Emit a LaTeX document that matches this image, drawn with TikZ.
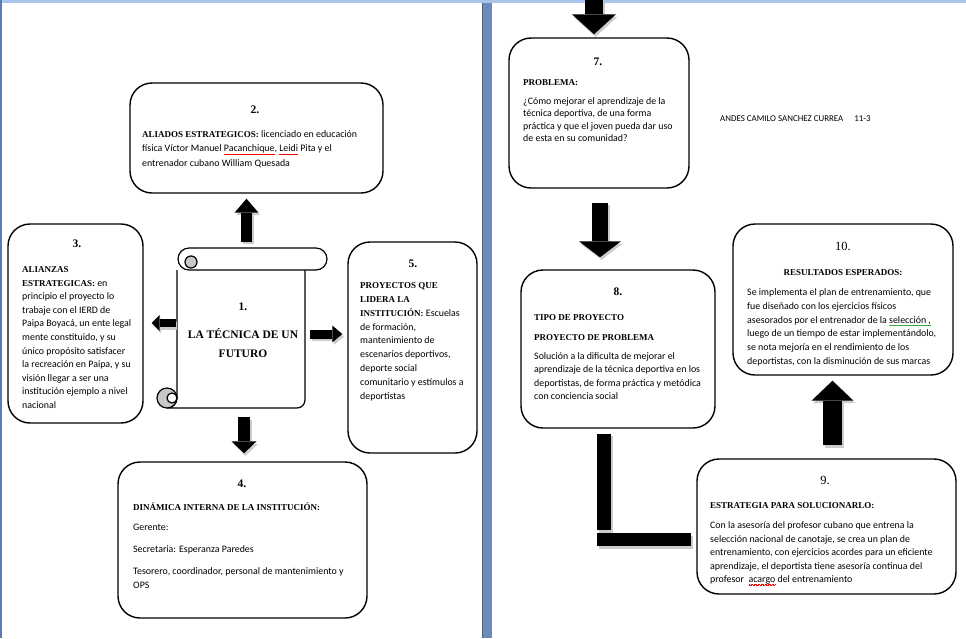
\documentclass[tikz,border=0pt]{standalone}
\usepackage{fontspec}
\setmainfont{Carlito}
\newfontfamily\headfont{Liberation Serif}
\usetikzlibrary{arrows.meta,calc}
\definecolor{topband}{RGB}{170,197,236}
\definecolor{pageedge}{RGB}{90,124,178}
\definecolor{gutter}{RGB}{108,138,186}
\definecolor{curlgray}{RGB}{200,200,200}
\definecolor{spellgreen}{RGB}{60,170,60}
\newcommand{\headtxt}[1]{{\headfont\bfseries\fontsize{9}{13}\selectfont #1}}
\newsavebox{\spellbox}
\newcommand{\spellmark}[2]{\sbox{\spellbox}{#2}\rlap{\color{#1}\xleaders\hbox{\rule[-2.8pt]{0.7pt}{0.6pt}\rule[-2.2pt]{0.7pt}{0.6pt}}\hskip\wd\spellbox}#2}
\tikzset{every node/.append style={font=\fontsize{9.9}{13.6}\selectfont}}
\tikzset{
  box/.style={draw, line width=1.4pt, rounded corners=22pt, fill=white, inner sep=0pt},
  numtxt/.style={anchor=base, inner sep=0pt, font=\headfont\bfseries\fontsize{11.5}{14}\selectfont},
  bodytxt/.style={anchor=base west, align=left, inner sep=0pt},
  fatarrow/.style n args={3}{line width=#1pt, -{Triangle[length=#2pt, width=#3pt, line width=0pt]}},
  fatbar/.style={line width=#1pt},
  scrl/.style={line width=1.2pt}
}

\begin{document}
\begin{tikzpicture}[x=1pt, y=-1pt]
    \useasboundingbox (0,0) rectangle (966,638);
    \fill[white] (0,0) rectangle (966,638);
    \fill[topband] (0,0) rectangle (966,2.5);
    \fill[pageedge] (0,0) rectangle (1.8,638);
    \fill[gutter] (482,2.5) rectangle (492,638);
    \draw[gutter!70!black, line width=0.8pt] (482.5,2.5) -- (482.5,638);

    % left page
    \node[inner sep=0pt, minimum width=127, minimum height=162] (b1) at (243.5,329) {};
    \filldraw[scrl, fill=white] (177,270) -- (177,398) arc (0:90:10) -- (297,408) arc (90:0:8) -- (305,270);
    \filldraw[scrl, fill=white] (189,248) -- (316,248) arc (-90:90:11) -- (189,270) arc (90:270:11) -- cycle;
    \filldraw[scrl, fill=curlgray] (191,262) circle (6);
    \filldraw[scrl, fill=curlgray] (167,398) circle (10);
    \filldraw[scrl, fill=white] (172,398) circle (5);
    \node[numtxt] (n1) at (243,310) {1.};
    \node[anchor=base, align=center, inner sep=0pt, font=\headfont\bfseries\fontsize{11.5}{19}\selectfont] (title) at (243,357) {LA TÉCNICA DE UN\\FUTURO};

    \node[box, minimum width=253, minimum height=110] (b2) at (256.5,138) {};
    \node[numtxt] (n2) at (255,113) {2.};
    \node[bodytxt, font=\fontsize{9.9}{14.6}\selectfont] (t2) at (142,166.5) {\headtxt{ALIADOS ESTRATEGICOS:} licenciado en educación\\física Víctor Manuel \spellmark{red}{Pacanchique}, \spellmark{red}{Leidi} Pita y el\\entrenador cubano William Quesada};

    \node[box, minimum width=135, minimum height=199] (b3) at (75.5,323.5) {};
    \node[numtxt] (n3) at (77,247) {3.};
    \node[bodytxt] (t3) at (22,408.5) {\headtxt{ALIANZAS}\\\headtxt{ESTRATEGICAS:} en\\principio el proyecto lo\\trabaje con el IERD de\\Paipa Boyacá, un ente legal\\mente constituido, y su\\único propósito satisfacer\\la recreación en Paipa, y su\\visión llegar a ser una\\institución ejemplo a nivel\\nacional};

    \node[box, minimum width=129, minimum height=211] (b5) at (412.5,347.5) {};
    \node[numtxt] (n5) at (413,267) {5.};
    \node[bodytxt, font=\fontsize{9.9}{13.9}\selectfont] (t5) at (360,399.5) {\headtxt{PROYECTOS QUE}\\\headtxt{LIDERA LA}\\\headtxt{INSTITUCIÓN:} Escuelas\\de formación,\\mantenimiento de\\escenarios deportivos,\\deporte social\\comunitario y estímulos a\\deportistas};

    \node[box, minimum width=249, minimum height=156] (b4) at (242.5,540) {};
    \node[numtxt] (n4) at (242,487) {4.};
    \node[bodytxt] (t4) at (133,588.5) {\headtxt{DINÁMICA INTERNA DE LA INSTITUCIÓN:}\\[6.4pt]Gerente:\\[8.4pt]Secretaria: Esperanza Paredes\\[8.4pt]Tesorero, coordinador, personal de mantenimiento y\\OPS};

    % right page
    \node[box, minimum width=180, minimum height=150] (b7) at (599,113) {};
    \node[numtxt] (n7) at (598,65) {7.};
    \node[bodytxt, font=\fontsize{9.9}{12.4}\selectfont] (t7) at (523,141.5) {\headtxt{PROBLEMA:}\\[6.6pt]¿Cómo mejorar el aprendizaje de la\\técnica deportiva, de una forma\\práctica y que el joven pueda dar uso\\de esta en su comunidad?};
    \node[anchor=base west, inner sep=0pt, font=\fontsize{8.9}{10}\selectfont] (author) at (720,121.5) {ANDES CAMILO SANCHEZ CURREA\hspace{11pt}11-3};

    \node[box, minimum width=194, minimum height=158] (b8) at (618,349) {};
    \node[numtxt] (n8) at (618,295) {8.};
    \node[bodytxt, font=\fontsize{9.9}{13.3}\selectfont] (t8) at (534,399.5) {\headtxt{TIPO DE PROYECTO}\\[6.7pt]\headtxt{PROYECTO DE PROBLEMA}\\[5.7pt]Solución a la dificulta de mejorar el\\aprendizaje de la técnica deportiva en los\\deportistas, de forma práctica y metódica\\con conciencia social};

    \node[box, minimum width=220, minimum height=151] (b10) at (843,299.5) {};
    \node[numtxt, font=\headfont\fontsize{12.5}{14}\selectfont] (n10) at (843,250) {10.};
    \node[anchor=base, inner sep=0pt] (h10) at (843,275.5) {\headtxt{RESULTADOS ESPERADOS:}};
    \node[bodytxt, font=\fontsize{9.9}{13.8}\selectfont] (t10) at (747,364.5) {Se implementa el plan de entrenamiento, que\\fue diseñado con los ejercicios físicos\\asesorados por el entrenador de la \spellmark{spellgreen}{selección ,}\\luego de un tiempo de estar implementándolo,\\se nota mejoría en el rendimiento de los\\deportistas, con la disminución de sus marcas};

    \node[box, minimum width=259, minimum height=135] (b9) at (826.5,526.5) {};
    \node[numtxt, font=\headfont\fontsize{12.5}{14}\selectfont] (n9) at (825,484) {9.};
    \node[bodytxt, font=\fontsize{9.9}{13.5}\selectfont] (t9) at (710,582.5) {\headtxt{ESTRATEGIA PARA SOLUCIONARLO:}\\[6.5pt]Con la asesoría del profesor cubano que entrena la\\selección nacional de canotaje, se crea un plan de\\entrenamiento, con ejercicios acordes para un eficiente\\aprendizaje, el deportista tiene asesoría continua del\\profesor\ \ \spellmark{red}{acargo} del entrenamiento};

    \coordinate (pgtop) at (594,0);
    \coordinate (lcorner) at (604,539.5);

    % shadow first, then the black arrows
    \foreach \col/\dx/\dy in {gray!40/1.5/-2.5, black/0/0} {
    \begin{scope}[draw=\col, transform canvas={shift={(\dx pt,\dy pt)}}]
    \draw[fatarrow={11}{14}{24}, shorten <=6pt, shorten >=5pt] ([xshift=3pt]b1.north) -- ([xshift=3pt]b1.north |- b2.south);
    \draw[fatarrow={8}{8}{16}, shorten <=4pt, shorten >=8pt] ([yshift=6pt]b1.west) -- ([yshift=6pt]b1.west -| b3.east);
    \draw[fatarrow={9}{10}{17}, shorten <=3pt, shorten >=5pt] ([yshift=-5pt]b1.east) -- ([yshift=-5pt]b1.east -| b5.west);
    \draw[fatarrow={12}{12}{25}, shorten <=7pt, shorten >=8pt] ([xshift=0.5pt]b1.south) -- ([xshift=0.5pt]b1.south |- b4.north);
    \draw[fatarrow={18}{20}{44}, shorten >=3pt] (pgtop) -- (pgtop |- b7.north);
    \draw[fatarrow={16}{16}{42}, shorten <=14pt, shorten >=12pt] ([xshift=1pt]b7.south) -- ([xshift=1pt]b7.south |- b8.north);
    \draw[fatarrow={19}{20}{42}, shorten <=13pt, shorten >=5pt] ([xshift=6pt]b9.north) -- ([xshift=6pt]b9.north |- b10.south);
    \draw[fatbar=14, shorten <=5pt] (b8.south -| lcorner) -- ([yshift=9.5pt]lcorner);
    \draw[fatbar=13, shorten >=5pt] ([xshift=-7pt]lcorner) -- (b9.west |- lcorner);
    \end{scope}
    }
\end{tikzpicture}
\end{document}
